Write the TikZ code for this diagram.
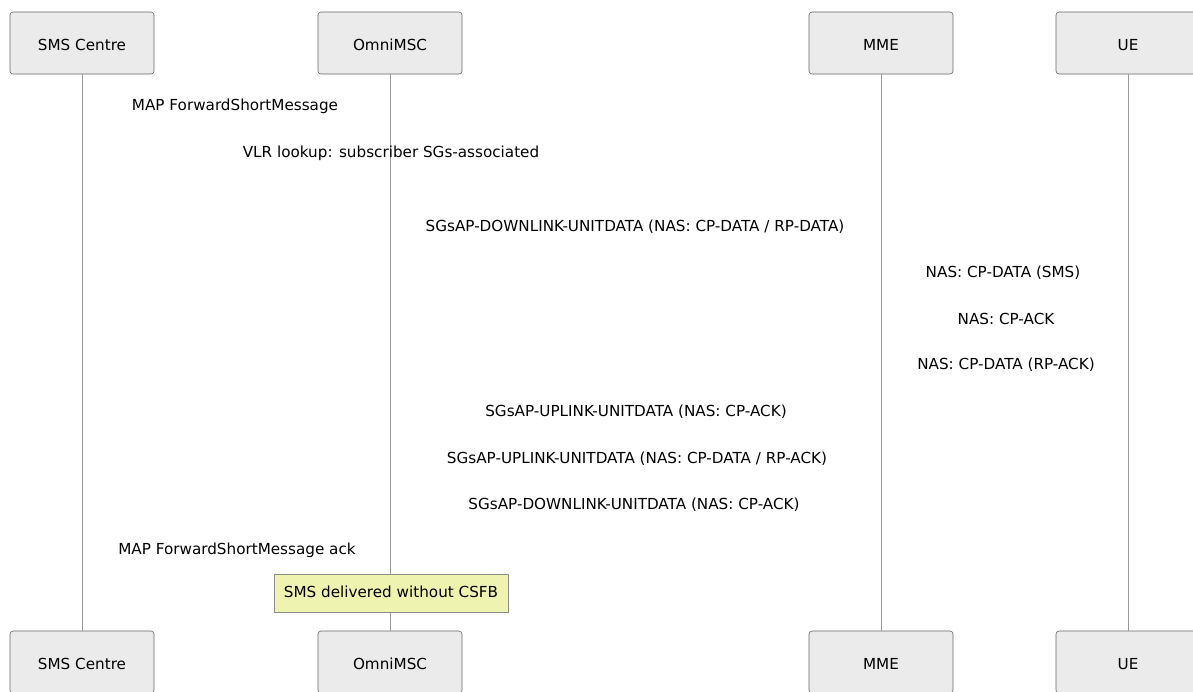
\documentclass[tikz,border=0pt]{standalone}
\usepackage{fontspec}
\setmainfont{DejaVu Sans}
\begin{document}
\begin{tikzpicture}[x=1pt,y=-1pt,
  actor/.style={draw=black!60,fill=black!8,rounded corners=3pt,minimum width=144pt,minimum height=62pt,inner sep=0pt,line width=0.6pt,text height=15.4pt,text depth=0pt},
  life/.style={draw=black!40,line width=0.8pt},
  msg/.style={inner sep=0pt,anchor=base},
  notebox/.style={draw=black!45,fill={rgb,255:red,238;green,243;blue,176},minimum width=234pt,minimum height=38pt,inner sep=0pt,line width=0.6pt,text height=9pt,text depth=0pt},
  font=\fontsize{15.2}{18}\selectfont]
\useasboundingbox (0,0) rectangle (1193,691);
\clip (0,0) rectangle (1193,691);
% actors
\node[actor] (smsT) at (82,43) {SMS Centre};
\node[actor] (mscT) at (390,43) {OmniMSC};
\node[actor] (mmeT) at (881,43) {MME};
\node[actor] (ueT) at (1128,43) {UE};
\node[actor] (smsB) at (82,662) {SMS Centre};
\node[actor] (mscB) at (390,662) {OmniMSC};
\node[actor] (mmeB) at (881,662) {MME};
\node[actor] (ueB) at (1128,662) {UE};
% lifelines
\draw[life] (smsT.south) -- (smsB.north);
\draw[life] (mscT.south) -- (mscB.north);
\draw[life] (mmeT.south) -- (mmeB.north);
\draw[life] (ueT.south) -- (ueB.north);
% messages
\node[msg] (m1) at (235,110) {MAP ForwardShortMessage};
\node[msg] (m2) at (391,157) {VLR lookup: subscriber SGs-associated};
\node[msg] (m3) at (635,231) {SGsAP-DOWNLINK-UNITDATA (NAS: CP-DATA / RP-DATA)};
\node[msg] (m4) at (1003,277) {NAS: CP-DATA (SMS)};
\node[msg] (m5) at (1006,324) {NAS: CP-ACK};
\node[msg] (m6) at (1006,369) {NAS: CP-DATA (RP-ACK)};
\node[msg] (m7) at (636,416) {SGsAP-UPLINK-UNITDATA (NAS: CP-ACK)};
\node[msg] (m8) at (637,463) {SGsAP-UPLINK-UNITDATA (NAS: CP-DATA / RP-ACK)};
\node[msg] (m9) at (634,509) {SGsAP-DOWNLINK-UNITDATA (NAS: CP-ACK)};
\node[msg] (m10) at (237,554) {MAP ForwardShortMessage ack};
% note
\node[notebox] (note) at (391,593) {SMS delivered without CSFB};
\end{tikzpicture}
\end{document}
